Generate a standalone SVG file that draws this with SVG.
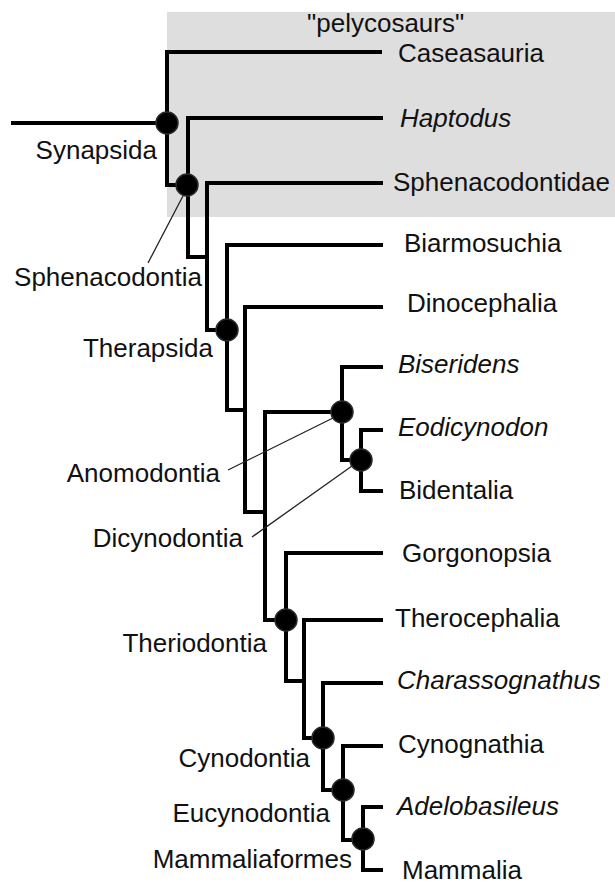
<svg xmlns="http://www.w3.org/2000/svg" width="615" height="884" viewBox="0 0 615 884">
<style>
text{font-family:"Liberation Sans",Arial,sans-serif;font-size:26px;fill:#111}
.i{font-style:italic}
.e{text-anchor:end}
.br{fill:none;stroke:#000;stroke-width:4;stroke-linejoin:miter}
.ld{stroke:#222;stroke-width:1.3;fill:none}
.nd{fill:#000;stroke:#2a2a2a;stroke-width:1.5}
</style>
<rect id="pelycosaurs-box" x="167" y="12" width="448" height="205" fill="#dedede"/>
<text x="307" y="32">"pelycosaurs"</text>
<g id="connectors">
<polyline class="br" points="11,123 167,123"/>
<polyline class="br" points="382,52 167,52 167,185 188,185"/>
<polyline class="br" points="383,118 188,118 188,257 207,257"/>
<polyline class="br" points="383,183 207,183 207,330 227,330"/>
<polyline class="br" points="383,245 227,245 227,410 245,410"/>
<polyline class="br" points="383,307 245,307 245,512 265,512"/>
<polyline class="br" points="342,412 265,412 265,620 286,620"/>
<polyline class="br" points="383,367 342,367 342,460 361,460"/>
<polyline class="br" points="383,430 361,430 361,491 383,491"/>
<polyline class="br" points="383,553 286,553 286,681 304,681"/>
<polyline class="br" points="383,620 304,620 304,738 323,738"/>
<polyline class="br" points="383,683 323,683 323,790 343,790"/>
<polyline class="br" points="383,746 343,746 343,840 363,840"/>
<polyline class="br" points="383,807 363,807 363,870 383,870"/>
<line class="ld" x1="184" y1="194" x2="148" y2="263"/>
<line class="ld" x1="228" y1="470" x2="333" y2="418"/>
<line class="ld" x1="252" y1="537" x2="352" y2="466"/>
</g>
<g id="Caseasauria"><text x="398" y="62">Caseasauria</text></g>
<g id="Haptodus"><text class="i" x="400" y="127">Haptodus</text></g>
<g id="Sphenacodontidae"><text x="393" y="191">Sphenacodontidae</text></g>
<g id="Biarmosuchia"><text x="404" y="252">Biarmosuchia</text></g>
<g id="Dinocephalia"><text x="407" y="312">Dinocephalia</text></g>
<g id="Biseridens"><text class="i" x="398" y="373">Biseridens</text></g>
<g id="Eodicynodon"><text class="i" x="398" y="436">Eodicynodon</text></g>
<g id="Bidentalia"><text x="399" y="499">Bidentalia</text></g>
<g id="Gorgonopsia"><text x="402" y="562">Gorgonopsia</text></g>
<g id="Therocephalia"><text x="395" y="627">Therocephalia</text></g>
<g id="Charassognathus"><text class="i" x="397" y="689">Charassognathus</text></g>
<g id="Cynognathia"><text x="398" y="753">Cynognathia</text></g>
<g id="Adelobasileus"><text class="i" x="397" y="815">Adelobasileus</text></g>
<g id="Mammalia"><text x="402" y="879">Mammalia</text></g>
<g id="Synapsida"><circle class="nd" cx="167" cy="123" r="11"/><text class="e" x="157" y="159">Synapsida</text></g>
<g id="Sphenacodontia"><circle class="nd" cx="187" cy="185" r="11"/><text class="e" x="202" y="286">Sphenacodontia</text></g>
<g id="Therapsida"><circle class="nd" cx="227" cy="330" r="11"/><text class="e" x="213" y="357">Therapsida</text></g>
<g id="Anomodontia"><circle class="nd" cx="342" cy="412" r="11"/><text class="e" x="220" y="482">Anomodontia</text></g>
<g id="Dicynodontia"><circle class="nd" cx="361" cy="460" r="11"/><text class="e" x="243" y="547">Dicynodontia</text></g>
<g id="Theriodontia"><circle class="nd" cx="286" cy="620" r="11"/><text class="e" x="267" y="652">Theriodontia</text></g>
<g id="Cynodontia"><circle class="nd" cx="323" cy="738" r="11"/><text class="e" x="310" y="767">Cynodontia</text></g>
<g id="Eucynodontia"><circle class="nd" cx="343" cy="790" r="11"/><text class="e" x="330" y="822">Eucynodontia</text></g>
<g id="Mammaliaformes"><circle class="nd" cx="363" cy="839" r="11"/><text class="e" x="352" y="868">Mammaliaformes</text></g>
</svg>
